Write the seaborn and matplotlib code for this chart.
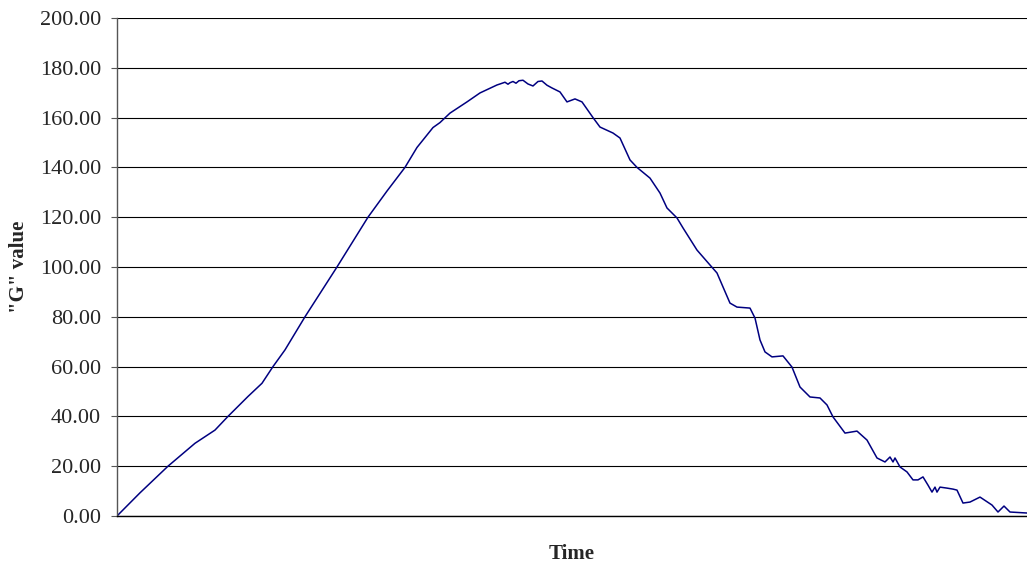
import numpy as np
import pandas as pd
import seaborn as sns
import matplotlib
matplotlib.use("Agg")
import matplotlib.pyplot as plt

# time steps (sample index) and "G" values
time = [0, 23, 51, 78, 98, 111, 131, 145, 156, 168, 188, 220, 251, 270, 288, 300,
        316, 323, 333, 350, 363, 380, 383, 388, 391, 393, 396, 399, 402, 406,
        411, 416, 421, 425, 430, 435, 443, 450, 458, 465, 476, 483, 496, 503,
        513, 520, 533, 543, 550, 560, 566, 580, 593, 600, 606, 613, 620, 633,
        638, 643, 648, 655, 666, 675, 683, 693, 703, 710, 716, 728, 740, 750,
        760, 768, 773, 776, 778, 783, 790, 796, 801, 806, 811, 815, 818, 820,
        823, 830, 836, 840, 846, 853, 863, 875, 881, 887, 893, 910]
g_value = [0, 9.3, 20, 29.2, 34.5, 40, 48, 53.3, 60, 66.7, 80, 100, 120, 130.5, 140, 148,
           156, 158, 161.8, 166.3, 169.9, 173.1, 173.5, 174.2, 173.4, 174.0, 174.5, 173.8, 174.8, 175,
           173.5, 172.7, 174.5, 174.7, 173, 171.9, 170.3, 166.3, 167.5, 166.3, 160, 156.2, 153.8, 151.8,
           143, 140, 135.7, 129.7, 123.7, 119.7, 115.7, 106.8, 100.8, 97.6, 92, 85.5, 83.9, 83.5,
           79.5, 70.7, 65.9, 63.9, 64.3, 59.8, 51.8, 47.8, 47.4, 44.6, 39.8, 33.3, 34.1, 30.5,
           23.3, 21.7, 23.7, 21.7, 23.3, 19.7, 17.7, 14.5, 14.5, 15.7, 12.4, 9.6, 11.6, 9.6,
           11.6, 11.2, 10.8, 10.4, 5.2, 5.6, 7.6, 4.4, 1.6, 4.0, 1.6, 1.2]
y_ticks = np.arange(0, 201, 20)

df = pd.DataFrame({"Time": time, "G": g_value})

sns.set_style("white")
plt.rcParams["font.family"] = ["Liberation Serif", "DejaVu Serif"]

fig = plt.figure(figsize=(10.27, 5.64), dpi=100)
ax = fig.add_axes([0.1139, 0.0851, 0.8861, 0.883])

sns.lineplot(data=df, x="Time", y="G", color="#000080", linewidth=1.1, ax=ax)

ax.set_xlim(0, 910)
ax.set_ylim(0, 200)
ax.set_yticks(y_ticks)
ax.set_yticklabels([f"{v:.2f}" for v in y_ticks], fontsize=16)
ax.set_xticks([])
ax.yaxis.grid(True, color="black", linewidth=0.8)
ax.set_axisbelow(True)
ax.tick_params(axis="y", direction="out", length=4.5, width=0.8, color="#555555", pad=7, left=True)

for side in ["top", "right"]:
    ax.spines[side].set_visible(False)
ax.spines["left"].set_color("#555555")
ax.spines["left"].set_linewidth(1.0)
ax.spines["bottom"].set_color("black")
ax.spines["bottom"].set_linewidth(1.0)

ax.set_xlabel("Time", fontsize=15, fontweight="bold", labelpad=20)
ax.set_ylabel('"G" value', fontsize=15, fontweight="bold")
ax.yaxis.set_label_coords(-0.097, 0.5)

fig.savefig("out.png", dpi=100)
